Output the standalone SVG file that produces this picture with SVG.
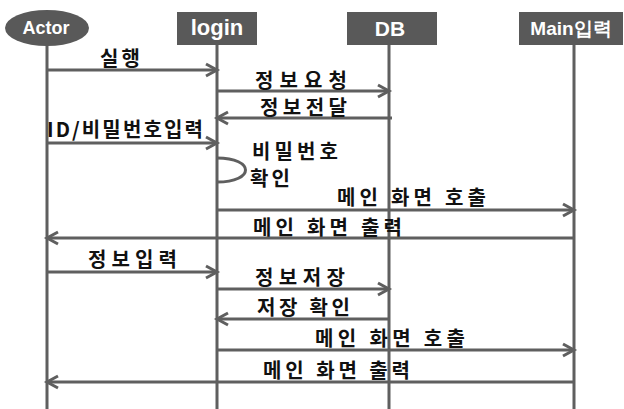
<svg xmlns="http://www.w3.org/2000/svg" width="624" height="409" viewBox="0 0 624 409">
<style>
.head{fill:#595959}
.htxt{fill:#ffffff;font-family:"Liberation Sans","Noto Sans",sans-serif;font-weight:bold;text-anchor:middle}
.life{stroke:#5f5f5f;stroke-width:3;fill:none}
.msg{stroke:#5f5f5f;stroke-width:3;fill:none;marker-end:url(#arr)}
.plain{stroke:#5f5f5f;stroke-width:3;fill:none}
.lbl{fill:#111111;font-family:"Noto Sans CJK KR","Noto Sans CJK SC",sans-serif;font-weight:bold;font-size:20px}
</style>
<defs>
<marker id="arr" markerUnits="userSpaceOnUse" markerWidth="14" markerHeight="14" refX="11" refY="6" orient="auto" overflow="visible">
<path d="M0,0 L11,6 L0,12" fill="none" stroke="#5f5f5f" stroke-width="3"/>
</marker>
</defs>
<rect width="624" height="409" fill="#ffffff"/>
<g id="actor">
<line class="life" x1="47" y1="44" x2="47" y2="409"/>
<ellipse class="head" cx="47" cy="28" rx="42" ry="18"/>
<text class="htxt" x="46" y="34" font-size="18">Actor</text>
</g>
<g id="login">
<line class="life" x1="217" y1="44" x2="217" y2="409"/>
<rect class="head" x="177" y="12" width="80" height="33"/>
<text class="htxt" x="217" y="35" font-size="22">login</text>
</g>
<g id="db">
<line class="life" x1="389" y1="44" x2="389" y2="409"/>
<rect class="head" x="347" y="12" width="90" height="33"/>
<text class="htxt" x="390" y="36" font-size="21">DB</text>
</g>
<g id="main">
<line class="life" x1="574" y1="44" x2="574" y2="409"/>
<rect class="head" x="519" y="12" width="104" height="33"/>
<text class="htxt" x="571" y="35" font-size="19" font-family="'Liberation Sans','Noto Sans CJK KR',sans-serif">Main입력</text>
</g>
<g id="connectors">
<line class="msg" x1="47" y1="70" x2="217" y2="70"/>
<line class="msg" x1="217" y1="91" x2="389" y2="91"/>
<line class="msg" x1="392" y1="118" x2="217" y2="118"/>
<line class="msg" x1="47" y1="143" x2="217" y2="143"/>
<path class="plain" stroke-width="2" d="M217,158 C255,158 255,182 217,182"/>
<line class="msg" x1="217" y1="210" x2="574" y2="210"/>
<line class="msg" x1="574" y1="238" x2="47" y2="238"/>
<line class="msg" x1="47" y1="272" x2="217" y2="272"/>
<line class="msg" x1="217" y1="289" x2="389" y2="289"/>
<line class="msg" x1="389" y1="319" x2="217" y2="319"/>
<line class="msg" x1="217" y1="350" x2="574" y2="350"/>
<line class="msg" x1="574" y1="382" x2="47" y2="382"/>
</g>
<g id="labels">
<text class="lbl" x="100" y="66" textLength="40" lengthAdjust="spacing">실행</text>
<text class="lbl" x="255" y="88" textLength="92" lengthAdjust="spacing">정보요청</text>
<text class="lbl" x="260" y="115" textLength="87" lengthAdjust="spacing">정보전달</text>
<text class="lbl" x="47" y="137" font-size="18" textLength="156" lengthAdjust="spacing">ID/비밀번호입력</text>
<text class="lbl" x="252" y="159" font-size="18" textLength="86" lengthAdjust="spacing">비밀번호</text>
<text class="lbl" x="250" y="186" font-size="18" textLength="40" lengthAdjust="spacing">확인</text>
<text class="lbl" x="337" y="205" textLength="149" lengthAdjust="spacing">메인 화면 호출</text>
<text class="lbl" x="253" y="235" textLength="149" lengthAdjust="spacing">메인 화면 출력</text>
<text class="lbl" x="88" y="267" textLength="89" lengthAdjust="spacing">정보입력</text>
<text class="lbl" x="255" y="285" textLength="90" lengthAdjust="spacing">정보저장</text>
<text class="lbl" x="257" y="315" textLength="93" lengthAdjust="spacing">저장 확인</text>
<text class="lbl" x="315" y="346" textLength="150" lengthAdjust="spacing">메인 화면 호출</text>
<text class="lbl" x="263" y="378" textLength="147" lengthAdjust="spacing">메인 화면 출력</text>
</g>
</svg>
